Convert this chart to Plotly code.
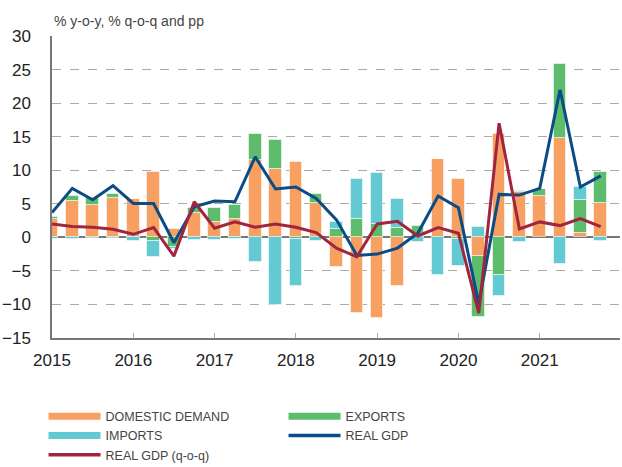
import plotly.graph_objects as go

years = ["2015", "2016", "2017", "2018", "2019", "2020", "2021"]
quarters = list(range(28))  # 2015Q1 .. 2021Q4

domestic_demand = [2.7, 5.45, 4.8, 5.9, 5.7, 9.75, 1.2, 3.6, 2.3, 2.8,
                   11.5, 10.25, 11.25, 5.15, -4.35, -11.3, -12.0, -7.3, 0.2, 11.6,
                   8.65, -2.75, 15.35, 6.8, 6.15, 14.85, 0.6, 5.05]
exports = [0.4, 0.65, 1.0, 0.6, 0.0, -0.5, -1.4, 0.8, 2.0, 2.0,
           3.9, 4.2, -0.3, 1.3, 1.25, 2.7, 2.0, 1.35, 1.5, 0.1,
           -0.3, -9.15, -5.65, 0.1, 1.05, 11.0, 4.95, 4.7]
imports = [-0.3, -0.2, -0.1, -0.1, -0.6, -2.45, -0.35, -0.4, -0.4, -0.3,
           -3.7, -10.05, -6.9, -0.6, 1.05, 5.95, 7.65, 4.4, -0.65, -5.6,
           -3.9, 1.6, -3.15, -0.65, 0.0, -3.95, 1.95, -0.6]
real_gdp = [3.7, 7.3, 5.6, 7.7, 5.05, 5.05, -0.8, 4.55, 5.4, 5.3,
            12.0, 7.2, 7.5, 5.8, 2.6, -2.7, -2.5, -1.6, 0.6, 6.15,
            4.4, -9.9, 6.4, 6.3, 7.3, 22.0, 7.5, 9.15]
real_gdp_qoq = [2.0, 1.6, 1.5, 1.2, 0.45, 1.45, -2.8, 5.3, 1.35, 2.3,
                1.5, 2.0, 1.5, 0.7, -1.6, -2.9, 2.0, 2.4, 0.2, 1.45,
                0.6, -11.3, 17.0, 1.25, 2.3, 1.75, 2.8, 1.6]

C_DOM = "#F7A062"
C_EXP = "#5EBD6C"
C_IMP = "#63C9D2"
C_GDP = "#0B4C86"
C_QOQ = "#A02640"

fig = go.Figure()
bar_line = dict(color="rgba(255,255,255,0.55)", width=1)
for name, vals, col in [("DOMESTIC DEMAND", domestic_demand, C_DOM),
                        ("EXPORTS", exports, C_EXP),
                        ("IMPORTS", imports, C_IMP)]:
    fig.add_trace(go.Bar(x=quarters, y=vals, name=name, marker_color=col,
                         marker_line=bar_line, width=0.62, showlegend=False))

fig.add_trace(go.Scatter(x=quarters, y=real_gdp, mode="lines", name="REAL GDP",
                         line=dict(color=C_GDP, width=3), showlegend=False))
fig.add_trace(go.Scatter(x=quarters, y=real_gdp_qoq, mode="lines", name="REAL GDP (q-o-q)",
                         line=dict(color=C_QOQ, width=3), showlegend=False))

# legend entries (wide swatches)
for name, col, w in [("DOMESTIC DEMAND", C_DOM, 7), ("EXPORTS", C_EXP, 7),
                     ("IMPORTS", C_IMP, 7), ("REAL GDP", C_GDP, 3.5),
                     ("REAL GDP (q-o-q)", C_QOQ, 3.5)]:
    fig.add_trace(go.Scatter(x=[None], y=[None], mode="lines", name=name,
                             line=dict(color=col, width=w), showlegend=True))

fig.update_layout(
    width=622, height=467,
    margin=dict(l=52, r=2, t=36, b=129, autoexpand=False),
    barmode="relative",
    bargap=0,
    plot_bgcolor="white", paper_bgcolor="white",
    font=dict(family="Liberation Sans, Arial, sans-serif", color="#222"),
    xaxis=dict(range=[0, 27.95], tickvals=[0, 4, 8, 12, 16, 20, 24], ticktext=years,
               showgrid=False, zeroline=False, showline=True, linecolor="#777", linewidth=1.5,
               ticks="inside", ticklen=5, tickcolor="#aaa", tickwidth=1,
               tickfont=dict(size=17, color="#222"), ticklabelstandoff=6, automargin=False),
    yaxis=dict(range=[-15, 30], dtick=5, showgrid=True, gridcolor="#aaa", griddash="dash",
               gridwidth=1, zeroline=True, zerolinecolor="#777", zerolinewidth=1.5,
               showline=True, linecolor="#777", linewidth=1.5, ticks="",
               tickfont=dict(size=17, color="#222"), ticklabelstandoff=16, automargin=False),
    legend=dict(orientation="h", xref="container", x=0.07, xanchor="left",
                yref="container", y=0.14, yanchor="top",
                entrywidth=173, entrywidthmode="pixels", itemwidth=52,
                font=dict(family="Liberation Sans Narrow, Arial Narrow, Liberation Sans, sans-serif",
                          size=12.5, color="#444"),
                traceorder="normal"),
    annotations=[dict(text="% y-o-y, % q-o-q and pp", x=0, y=1, xref="paper", yref="paper",
                      xanchor="left", yanchor="bottom", yshift=5, showarrow=False,
                      font=dict(size=14, color="#444"))],
)

fig.write_html("out.html", config={"displayModeBar": False},
               post_script="document.body.style.margin='0';")
